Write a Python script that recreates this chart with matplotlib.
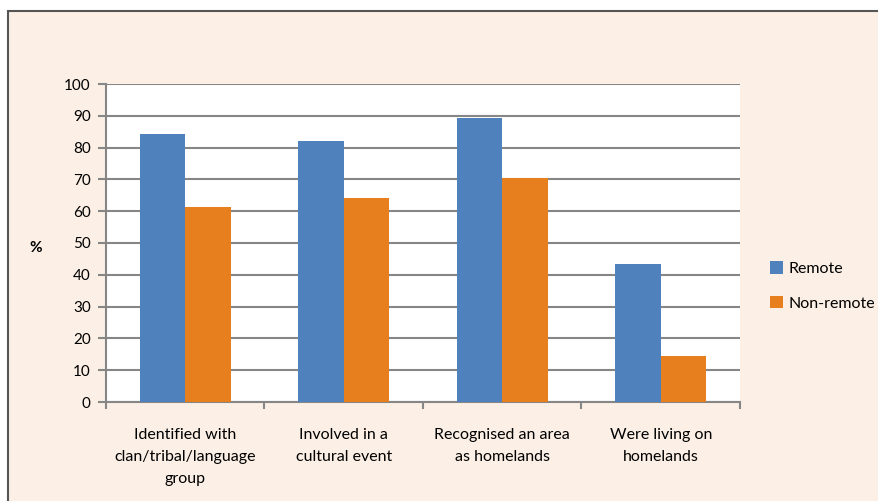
import numpy as np
import matplotlib.pyplot as plt
from matplotlib.patches import Rectangle

categories = [
    "Identified with\nclan/tribal/language\ngroup",
    "Involved in a\ncultural event",
    "Recognised an area\nas homelands",
    "Were living on\nhomelands",
]
remote = [84.2, 82.0, 89.3, 43.4]
non_remote = [61.2, 64.2, 70.3, 14.5]
series_names = ["Remote", "Non-remote"]

BLUE = "#4F81BD"
ORANGE = "#E87F1F"
PANEL = "#FCF0E6"
GRID = "#868686"

plt.rcParams["font.family"] = ["Lato", "DejaVu Sans"]

fig = plt.figure(figsize=(8.79, 5.01), dpi=100)
fig.patch.set_facecolor("white")

# tinted panel with a dark frame on top/left
fig.patches.append(Rectangle((8 / 879, -0.05), 1.1, 1 - 11 / 501 + 0.05,
                             transform=fig.transFigure, facecolor=PANEL,
                             edgecolor="#555555", linewidth=1.5, zorder=-10))

ax = fig.add_axes([106 / 879, 1 - 402 / 501, (740 - 106) / 879, (402 - 84) / 501])
ax.set_facecolor("white")

x = np.arange(len(categories))
w = 0.286
ax.bar(x - w / 2, remote, w, color=BLUE, label=series_names[0], zorder=3)
ax.bar(x + w / 2, non_remote, w, color=ORANGE, label=series_names[1], zorder=3)

ax.set_xlim(-0.5, len(categories) - 0.5)
ax.set_ylim(0, 100)
ax.set_yticks(np.arange(0, 101, 10))
ax.yaxis.grid(True, color=GRID, linewidth=1.5, zorder=1)
ax.set_axisbelow(True)

# category labels sit between the boundary ticks
ax.set_xticks(np.arange(-0.5, len(categories), 1.0))
ax.set_xticklabels([])
ax.set_xticks(x, minor=True)
ax.set_xticklabels(categories, minor=True, fontsize=11.5, linespacing=1.7,
                   va="top")
ax.tick_params(axis="x", which="minor", length=0, pad=19)
ax.tick_params(axis="x", which="major", length=5, width=1.5, color=GRID)
ax.tick_params(axis="y", length=6, width=1.5, color=GRID, labelsize=11, pad=5)

for side in ["top", "right"]:
    ax.spines[side].set_visible(False)
for side in ["left", "bottom"]:
    ax.spines[side].set_color(GRID)
    ax.spines[side].set_linewidth(1.5)

fig.text(36 / 879, 1 - 248 / 501, "%", fontsize=11, fontweight="bold",
         ha="center", va="center")

fig.legend(loc="center left", bbox_to_anchor=(756 / 879, 1 - 286 / 501),
           frameon=False, fontsize=11.5, handlelength=0.8, handleheight=0.8,
           handletextpad=0.35, labelspacing=1.25)

fig.savefig("out.png", dpi=100, facecolor=fig.get_facecolor())
